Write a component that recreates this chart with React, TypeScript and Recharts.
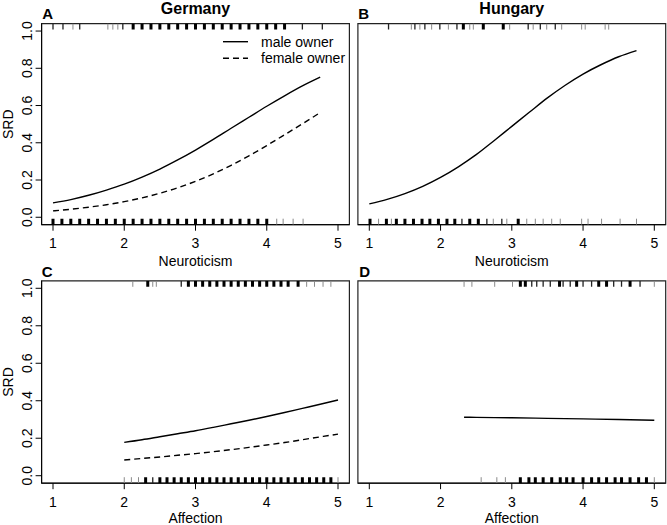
import { ComposedChart, Line, Scatter, XAxis, YAxis, ReferenceArea } from "recharts";

const FONT = '"Liberation Sans", Arial, Helvetica, sans-serif';

// fitted curves
const neuroGrid = [1, 1.25, 1.5, 1.75, 2, 2.25, 2.5, 2.75, 3, 3.25, 3.5, 3.75, 4, 4.25, 4.5, 4.75];
const germanyNeuroMale = [0.077, 0.095, 0.118, 0.146, 0.178, 0.216, 0.259, 0.308, 0.361, 0.418, 0.478, 0.537, 0.596, 0.652, 0.705, 0.752];
const germanyNeuroFemale = [0.034, 0.043, 0.054, 0.067, 0.084, 0.104, 0.129, 0.158, 0.193, 0.233, 0.279, 0.33, 0.385, 0.443, 0.502, 0.562];
const hungaryNeuroMale = [0.072, 0.096, 0.127, 0.166, 0.214, 0.271, 0.336, 0.411, 0.488, 0.565, 0.641, 0.709, 0.769, 0.819, 0.862, 0.895];

const affectGrid = [2, 2.25, 2.5, 2.75, 3, 3.25, 3.5, 3.75, 4, 4.25, 4.5, 4.75, 5];
const germanyAffectMale = [0.178, 0.192, 0.208, 0.224, 0.24, 0.258, 0.277, 0.296, 0.316, 0.337, 0.359, 0.381, 0.404];
const germanyAffectFemale = [0.084, 0.092, 0.1, 0.109, 0.118, 0.128, 0.139, 0.151, 0.164, 0.177, 0.192, 0.207, 0.222];
const hungaryAffectGrid = [2.33, 2.5, 3, 3.5, 4, 4.5, 5];
const hungaryAffectMale = [0.312, 0.311, 0.309, 0.306, 0.303, 0.3, 0.296];

// rug marks: [score, number of owners] for SRD = 1 (top) and SRD = 0 (bottom)
const germanyNeuroTop = [
  [1.0, 2], [1.14, 2], [1.28, 1], [1.375, 2], [1.77, 1], [1.84, 1], [1.91, 1], [1.98, 2], [2.125, 3], [2.25, 4],
  [2.375, 4], [2.5, 5], [2.625, 4], [2.75, 5], [2.875, 4], [3.0, 5], [3.125, 4], [3.25, 5], [3.375, 4], [3.5, 4],
  [3.625, 4], [3.75, 5], [3.875, 4], [4.0, 4], [4.125, 3], [4.25, 4], [4.5, 2], [4.78, 2],
];
const germanyNeuroBottom = [
  [1.0, 5], [1.125, 4], [1.25, 4], [1.375, 5], [1.5, 5], [1.625, 5], [1.75, 5], [1.875, 5], [2.0, 5], [2.125, 5],
  [2.25, 5], [2.375, 5], [2.5, 5], [2.625, 5], [2.75, 5], [2.875, 5], [3.0, 5], [3.125, 5], [3.25, 5], [3.375, 5],
  [3.5, 5], [3.625, 5], [3.75, 5], [3.875, 5], [4.0, 4], [4.14, 1], [4.23, 1], [4.37, 1], [4.51, 1],
];
const hungaryNeuroTop = [
  [1.27, 2], [1.59, 1], [1.64, 2], [1.71, 1], [1.78, 2], [1.875, 1], [1.99, 2], [2.11, 1], [2.23, 2], [2.32, 3],
  [2.41, 1], [2.46, 1], [2.6, 3], [2.88, 3], [2.97, 1], [3.23, 2], [3.3, 1], [3.4, 2], [3.49, 1], [3.61, 2],
  [3.7, 1], [3.98, 1], [4.03, 1], [4.31, 1], [4.36, 1],
];
const hungaryNeuroBottom = [
  [1.01, 3], [1.13, 1], [1.24, 3], [1.31, 1], [1.38, 3], [1.5, 3], [1.62, 3], [1.74, 3], [1.85, 3], [1.97, 3],
  [2.09, 3], [2.2, 3], [2.3, 2], [2.41, 3], [2.53, 3], [2.65, 2], [2.74, 1], [2.86, 2], [2.93, 1], [3.09, 3],
  [3.21, 1], [3.33, 1], [3.44, 1], [3.56, 1], [3.68, 1], [3.98, 1], [4.07, 1], [4.26, 1], [4.52, 1], [4.75, 1],
];
const germanyAffectTop = [
  [2.12, 1], [2.33, 3], [2.4, 1], [2.45, 1], [2.8, 2], [2.9, 3], [3.0, 3], [3.1, 3], [3.2, 3], [3.3, 3],
  [3.4, 3], [3.5, 3], [3.6, 3], [3.7, 3], [3.8, 3], [3.9, 3], [4.0, 3], [4.1, 3], [4.2, 3], [4.3, 3],
  [4.44, 3], [4.56, 1], [4.67, 1], [4.79, 1], [4.9, 1],
];
const germanyAffectBottom = [
  [2.0, 1], [2.1, 1], [2.2, 1], [2.3, 3], [2.4, 2], [2.5, 3], [2.6, 3], [2.7, 3], [2.8, 3], [2.9, 3],
  [3.0, 3], [3.1, 3], [3.2, 3], [3.3, 3], [3.4, 3], [3.5, 3], [3.6, 3], [3.7, 3], [3.8, 3], [3.9, 3],
  [4.0, 3], [4.1, 3], [4.2, 3], [4.3, 3], [4.4, 3], [4.5, 3], [4.6, 3], [4.7, 3], [4.8, 3], [4.9, 3], [5.0, 1],
];
const hungaryAffectTop = [
  [2.33, 1], [2.44, 1], [2.76, 1], [3.01, 1], [3.12, 3], [3.19, 3], [3.28, 2], [3.35, 2], [3.44, 2], [3.54, 2],
  [3.67, 3], [3.72, 2], [3.82, 2], [3.91, 3], [4.0, 2], [4.12, 2], [4.22, 3], [4.33, 3], [4.43, 2], [4.54, 2],
  [4.66, 3], [4.8, 2], [5.0, 1],
];
const hungaryAffectBottom = [
  [2.57, 1], [2.79, 1], [2.91, 1], [3.12, 3], [3.24, 3], [3.33, 3], [3.44, 3], [3.56, 3], [3.68, 3], [3.77, 3],
  [3.86, 3], [4.0, 3], [4.12, 3], [4.22, 3], [4.33, 3], [4.45, 3], [4.54, 3], [4.66, 3], [4.78, 3], [4.89, 3], [5.0, 1],
];

const xTicks = [1, 2, 3, 4, 5];
const yTicks = [0, 0.2, 0.4, 0.6, 0.8, 1];

const toPoints = (xs: number[], ys: number[]) => xs.map((x, i) => ({ x, y: ys[i] }));
const toRug = (rows: number[][], y: number) => rows.map(([x, n]) => ({ x, y, n }));

const rugStyle = (n: number) =>
  n >= 3 ? { stroke: "#000", w: 3 } : n === 2 ? { stroke: "#222", w: 1.3 } : { stroke: "#8a8a8a", w: 1 };

const RugMark = ({ cx, cy, payload, dir }: any) => {
  const s = rugStyle(payload.n);
  return <line x1={cx} x2={cx} y1={cy} y2={cy + dir * 6} stroke={s.stroke} strokeWidth={s.w} />;
};

const XTick = ({ x, y, payload }: any) => (
  <text x={x} y={y} textAnchor="middle" fontSize={14} fill="#000" fontFamily={FONT}>
    {payload.value}
  </text>
);

const YTick = ({ x, y, payload }: any) => (
  <text
    x={x - 4}
    y={y}
    transform={`rotate(-90 ${x - 4} ${y})`}
    textAnchor="middle"
    fontSize={14}
    fill="#000"
    fontFamily={FONT}
  >
    {Number(payload.value).toFixed(1)}
  </text>
);

interface PanelProps {
  left: number;
  top: number;
  width: number;
  height: number;
  plotLeft: number;
  plotTop: number;
  plotRight: number;
  plotBottom: number;
  showY: boolean;
  male: { x: number; y: number }[];
  female?: { x: number; y: number }[];
  rugTop: { x: number; y: number; n: number }[];
  rugBottom: { x: number; y: number; n: number }[];
}

const Panel = (p: PanelProps) => (
  <div style={{ position: "absolute", left: p.left, top: p.top }}>
    <ComposedChart
      width={p.width}
      height={p.height}
      margin={{
        top: p.plotTop - p.top,
        left: p.showY ? 0 : p.plotLeft - p.left,
        right: p.left + p.width - p.plotRight,
        bottom: 0,
      }}
    >
      <XAxis
        type="number"
        dataKey="x"
        domain={[0.84, 5.16]}
        ticks={xTicks}
        allowDataOverflow
        height={p.top + p.height - p.plotBottom}
        tickSize={6}
        tickMargin={17.5}
        tick={<XTick />}
        tickLine={{ stroke: "#000" }}
        axisLine={{ stroke: "#000" }}
      />
      <YAxis
        type="number"
        dataKey="y"
        domain={[-0.04, 1.04]}
        ticks={yTicks}
        allowDataOverflow
        hide={!p.showY}
        width={p.plotLeft - p.left}
        tickSize={6}
        tickMargin={0}
        tick={<YTick />}
        tickLine={{ stroke: "#000" }}
        axisLine={{ stroke: "#000" }}
      />
      <ReferenceArea
        x1={0.84}
        x2={5.16}
        y1={-0.04}
        y2={1.04}
        fill="none"
        stroke="#222"
        strokeWidth={1.2}
        ifOverflow="visible"
      />
      <Line data={p.male} dataKey="y" type="monotone" dot={false} stroke="#000" strokeWidth={1.4} isAnimationActive={false} />
      {p.female && (
        <Line
          data={p.female}
          dataKey="y"
          type="monotone"
          dot={false}
          stroke="#000"
          strokeWidth={1.4}
          strokeDasharray="6 4"
          isAnimationActive={false}
        />
      )}
      <Scatter data={p.rugTop} dataKey="y" shape={(s: any) => <RugMark {...s} dir={1} />} isAnimationActive={false} />
      <Scatter data={p.rugBottom} dataKey="y" shape={(s: any) => <RugMark {...s} dir={-1} />} isAnimationActive={false} />
    </ComposedChart>
  </div>
);

const txt = { fontFamily: FONT, fill: "#000" };

export default function App() {
  const leftX = { plotLeft: 41.6, plotRight: 349.4 };
  const rightX = { plotLeft: 357.9, plotRight: 665.7 };
  return (
    <div style={{ position: "absolute", left: 0, top: 0, width: 667, height: 525, background: "#fff" }}>
      <Panel
        left={0} top={0} width={352} height={262} {...leftX} plotTop={23.6} plotBottom={224.7} showY
        male={toPoints(neuroGrid, germanyNeuroMale)}
        female={toPoints(neuroGrid, germanyNeuroFemale)}
        rugTop={toRug(germanyNeuroTop, 1.04)}
        rugBottom={toRug(germanyNeuroBottom, -0.04)}
      />
      <Panel
        left={352} top={0} width={315} height={262} {...rightX} plotTop={23.6} plotBottom={224.7} showY={false}
        male={toPoints(neuroGrid, hungaryNeuroMale)}
        rugTop={toRug(hungaryNeuroTop, 1.04)}
        rugBottom={toRug(hungaryNeuroBottom, -0.04)}
      />
      <Panel
        left={0} top={262} width={352} height={263} {...leftX} plotTop={280.8} plotBottom={483.2} showY
        male={toPoints(affectGrid, germanyAffectMale)}
        female={toPoints(affectGrid, germanyAffectFemale)}
        rugTop={toRug(germanyAffectTop, 1.04)}
        rugBottom={toRug(germanyAffectBottom, -0.04)}
      />
      <Panel
        left={352} top={262} width={315} height={263} {...rightX} plotTop={280.8} plotBottom={483.2} showY={false}
        male={toPoints(hungaryAffectGrid, hungaryAffectMale)}
        rugTop={toRug(hungaryAffectTop, 1.04)}
        rugBottom={toRug(hungaryAffectBottom, -0.04)}
      />
      <svg width={667} height={525} style={{ position: "absolute", left: 0, top: 0, pointerEvents: "none" }}>
        <text x={195.5} y={13.5} textAnchor="middle" fontSize={16} fontWeight="bold" {...txt}>Germany</text>
        <text x={511.8} y={13.5} textAnchor="middle" fontSize={16} fontWeight="bold" {...txt}>Hungary</text>
        <text x={42.3} y={18.5} fontSize={15} fontWeight="bold" {...txt}>A</text>
        <text x={358.3} y={18.5} fontSize={15} fontWeight="bold" {...txt}>B</text>
        <text x={41.7} y={277} fontSize={15} fontWeight="bold" {...txt}>C</text>
        <text x={359.3} y={277} fontSize={15} fontWeight="bold" {...txt}>D</text>
        <text x={13.3} y={124.2} transform="rotate(-90 13.3 124.2)" textAnchor="middle" fontSize={14} {...txt}>SRD</text>
        <text x={13.3} y={382} transform="rotate(-90 13.3 382)" textAnchor="middle" fontSize={14} {...txt}>SRD</text>
        <text x={195.5} y={265.5} textAnchor="middle" fontSize={14} {...txt}>Neuroticism</text>
        <text x={511.8} y={265.5} textAnchor="middle" fontSize={14} {...txt}>Neuroticism</text>
        <text x={195.5} y={523} textAnchor="middle" fontSize={14} {...txt}>Affection</text>
        <text x={511.8} y={523} textAnchor="middle" fontSize={14} {...txt}>Affection</text>
        <line x1={223} x2={248} y1={41.7} y2={41.7} stroke="#000" strokeWidth={1.4} />
        <line x1={223} x2={248} y1={58.3} y2={58.3} stroke="#000" strokeWidth={1.4} strokeDasharray="6 4" />
        <text x={261} y={46.5} fontSize={14} {...txt}>male owner</text>
        <text x={261} y={63} fontSize={14} {...txt}>female owner</text>
      </svg>
    </div>
  );
}
